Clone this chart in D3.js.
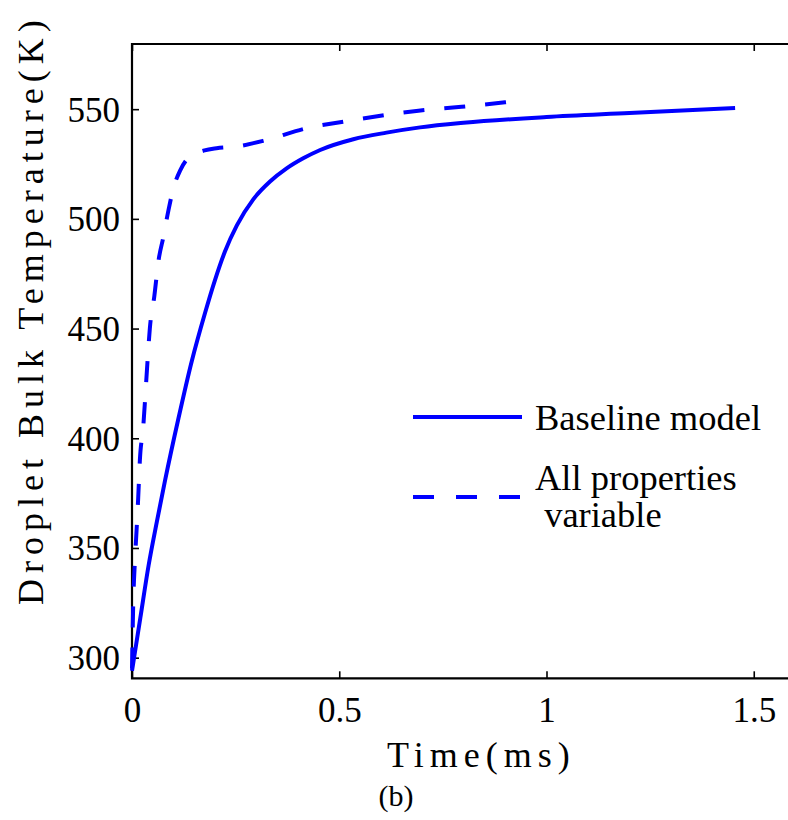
<!DOCTYPE html>
<html>
<head>
<meta charset="utf-8">
<script src="https://cdn.jsdelivr.net/npm/d3@7"></script>
<style>
  body { margin: 0; background: #fff; }
  svg { display: block; font-family: "Liberation Serif", "Times New Roman", serif; }
</style>
</head>
<body>
<svg id="chart" width="788" height="820"></svg>
<script>
// values
const timeTicks = [0, 0.5, 1, 1.5];
const tempTicks = [300, 350, 400, 450, 500, 550];

const baselineTime = [0, 0.02, 0.04, 0.06, 0.08, 0.112, 0.144, 0.176, 0.2, 0.224, 0.253, 0.293, 0.333, 0.373, 0.413, 0.454, 0.534, 0.614, 0.695, 0.8, 1.0, 1.2, 1.455];
const baselineTemp = [294, 318, 342, 362, 381, 409, 435, 457, 472, 485, 497, 509, 517, 523, 527.6, 531.4, 536.3, 539.3, 541.7, 543.8, 546.4, 548.2, 550.5];

const allPropsTime = [0, 0.003, 0.007, 0.011, 0.015, 0.019, 0.027, 0.036, 0.043, 0.054, 0.064, 0.076, 0.088, 0.1, 0.116, 0.13, 0.148, 0.175, 0.204, 0.253, 0.325, 0.421, 0.51, 0.614, 0.691, 0.795, 0.9, 0.942];
const allPropsTemp = [295, 325, 344, 358, 373, 390, 405, 431, 450, 465, 481, 492, 504, 514, 522, 526.5, 529.2, 531.2, 532.2, 533, 536, 541.3, 544.3, 547.4, 549.3, 551.1, 553.1, 554];

const legendLabels = ["Baseline model", "All properties", " variable"];

const svg = d3.select("#chart");

const x = d3.scaleLinear().domain([0, 1]).range([132, 546.5]);
const y = d3.scaleLinear().domain([290.6, 579.7]).range([678.3, 44]);

const plotLeft = x(0), plotRight = 800, plotTop = y.range()[1], plotBottom = y.range()[0];

// axes with inward ticks
const xAxis = svg.append("g")
  .attr("transform", `translate(0,${plotBottom})`)
  .call(d3.axisBottom(x).tickValues(timeTicks).tickSizeInner(-7).tickSizeOuter(0)
    .tickFormat(d3.format("")));
const xTop = svg.append("g")
  .attr("transform", `translate(0,${plotTop})`)
  .call(d3.axisTop(x).tickValues(timeTicks).tickSizeInner(-7).tickSizeOuter(0).tickFormat(""));
const yAxis = svg.append("g")
  .attr("transform", `translate(${plotLeft},0)`)
  .call(d3.axisLeft(y).tickValues(tempTicks).tickSizeInner(-7).tickSizeOuter(0).tickPadding(12));

[xAxis, xTop, yAxis].forEach((g) => {
  g.select(".domain").remove();
  g.selectAll(".tick line").attr("stroke", "#000").attr("stroke-width", 1.6);
  g.selectAll("text")
    .attr("font-family", "'Liberation Serif', serif")
    .attr("font-size", 35)
    .attr("fill", "#000");
});
xAxis.selectAll("text").attr("y", 44).attr("dy", null);
yAxis.selectAll("text").attr("dy", "0.34em");

// frame
svg.append("path")
  .attr("d", `M${plotRight},${plotTop}H${plotLeft}V${plotBottom}H${plotRight}`)
  .attr("fill", "none")
  .attr("stroke", "#000")
  .attr("stroke-width", 2.2);

const line = d3.line()
  .x((d) => x(d[0]))
  .y((d) => y(d[1]))
  .curve(d3.curveMonotoneX);

svg.append("path")
  .datum(d3.zip(baselineTime, baselineTemp))
  .attr("d", line)
  .attr("fill", "none")
  .attr("stroke", "#0000ff")
  .attr("stroke-width", 4);

svg.append("path")
  .datum(d3.zip(allPropsTime, allPropsTemp))
  .attr("d", line)
  .attr("fill", "none")
  .attr("stroke", "#0000ff")
  .attr("stroke-width", 4)
  .attr("stroke-dasharray", "21,20");

// legend
const leg = svg.append("g").attr("font-size", 36.5);
leg.append("line")
  .attr("x1", 413).attr("x2", 522).attr("y1", 417).attr("y2", 417)
  .attr("stroke", "#0000ff").attr("stroke-width", 4);
leg.append("line")
  .attr("x1", 413).attr("x2", 522).attr("y1", 497).attr("y2", 497)
  .attr("stroke", "#0000ff").attr("stroke-width", 4)
  .attr("stroke-dasharray", "21,22");
leg.append("text").attr("x", 535).attr("y", 430).text(legendLabels[0]);
leg.append("text").attr("x", 535).attr("y", 490).text(legendLabels[1]);
leg.append("text").attr("x", 535).attr("y", 527)
  .style("white-space", "pre").text(legendLabels[2]);

// axis titles
svg.append("text")
  .attr("x", 387).attr("y", 767)
  .attr("font-size", 36)
  .attr("letter-spacing", 6)
  .text("Time(ms)");

svg.append("text")
  .attr("transform", "translate(43,605) rotate(-90)")
  .attr("font-size", 36)
  .attr("letter-spacing", 6)
  .text("Droplet Bulk Temperature(K)");

svg.append("text")
  .attr("x", 396).attr("y", 806)
  .attr("text-anchor", "middle")
  .attr("font-size", 30)
  .text("(b)");
</script>
</body>
</html>
